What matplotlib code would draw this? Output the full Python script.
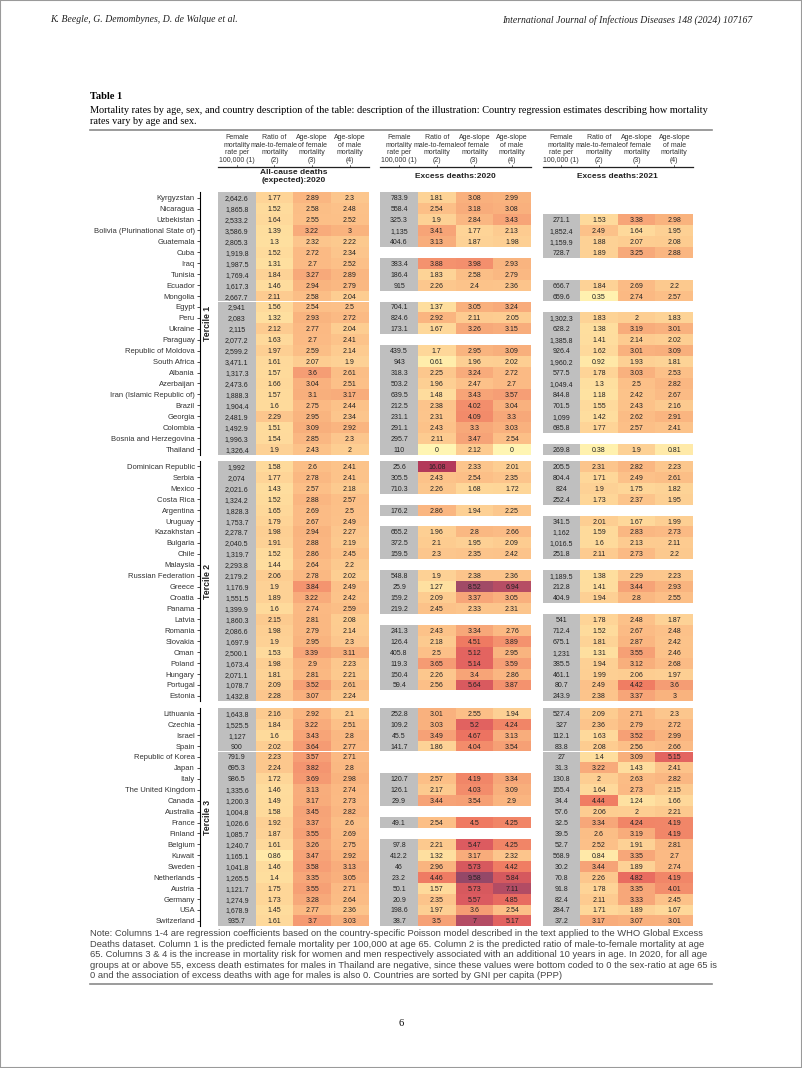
import matplotlib
matplotlib.use("Agg")
import matplotlib.pyplot as plt
from matplotlib.colors import LinearSegmentedColormap, Normalize
from matplotlib.patches import Rectangle
from matplotlib.lines import Line2D
from matplotlib import transforms

# ---------------- data ----------------
countries = [
    # tercile 1
    "Kyrgyzstan", "Nicaragua", "Uzbekistan", "Bolivia (Plurinational State of)", "Guatemala",
    "Cuba", "Iraq", "Tunisia", "Ecuador", "Mongolia", "Egypt", "Peru", "Ukraine", "Paraguay",
    "Republic of Moldova", "South Africa", "Albania", "Azerbaijan", "Iran (Islamic Republic of)",
    "Brazil", "Georgia", "Colombia", "Bosnia and Herzegovina", "Thailand",
    # tercile 2
    "Dominican Republic", "Serbia", "Mexico", "Costa Rica", "Argentina", "Uruguay", "Kazakhstan",
    "Bulgaria", "Chile", "Malaysia", "Russian Federation", "Greece", "Croatia", "Panama", "Latvia",
    "Romania", "Slovakia", "Oman", "Poland", "Hungary", "Portugal", "Estonia",
    # tercile 3
    "Lithuania", "Czechia", "Israel", "Spain", "Republic of Korea", "Japan", "Italy",
    "The United Kingdom", "Canada", "Australia", "France", "Finland", "Belgium", "Kuwait",
    "Sweden", "Netherlands", "Austria", "Germany", "USA", "Switzerland",
]
tercile_sizes = [24, 22, 20]

# columns: female rate per 100,000, male/female ratio, age-slope female, age-slope male
allcause_2020 = [
    (2642.6, 1.77, 2.89, 2.3), (1865.8, 1.52, 2.58, 2.48), (2533.2, 1.64, 2.55, 2.52),
    (3586.9, 1.39, 3.22, 3), (2805.3, 1.3, 2.32, 2.22), (1919.8, 1.52, 2.72, 2.34),
    (1987.5, 1.31, 2.7, 2.52), (1769.4, 1.84, 3.27, 2.89), (1617.3, 1.46, 2.94, 2.79),
    (2667.7, 2.11, 2.58, 2.04), (2941, 1.56, 2.54, 2.5), (2083, 1.32, 2.93, 2.72),
    (2115, 2.12, 2.77, 2.04), (2077.2, 1.63, 2.7, 2.41), (2599.2, 1.97, 2.59, 2.14),
    (3471.1, 1.61, 2.07, 1.9), (1317.3, 1.57, 3.6, 2.61), (2473.6, 1.66, 3.04, 2.51),
    (1888.3, 1.57, 3.1, 3.17), (1904.4, 1.6, 2.75, 2.44), (2481.9, 2.29, 2.95, 2.34),
    (1492.9, 1.51, 3.09, 2.92), (1996.3, 1.54, 2.85, 2.3), (1326.4, 1.9, 2.43, 2),
    (1992, 1.58, 2.6, 2.41), (2074, 1.77, 2.78, 2.41), (2021.6, 1.43, 2.57, 2.18),
    (1324.2, 1.52, 2.88, 2.57), (1828.3, 1.65, 2.69, 2.5), (1753.7, 1.79, 2.67, 2.49),
    (2278.7, 1.98, 2.94, 2.27), (2040.5, 1.91, 2.88, 2.19), (1319.7, 1.52, 2.86, 2.45),
    (2293.8, 1.44, 2.64, 2.2), (2179.2, 2.06, 2.78, 2.02), (1176.9, 1.9, 3.84, 2.49),
    (1551.5, 1.89, 3.22, 2.42), (1399.9, 1.6, 2.74, 2.59), (1860.3, 2.15, 2.81, 2.08),
    (2086.6, 1.98, 2.79, 2.14), (1697.9, 1.9, 2.95, 2.3), (2500.1, 1.53, 3.39, 3.11),
    (1673.4, 1.98, 2.9, 2.23), (2071.1, 1.81, 2.81, 2.21), (1078.7, 2.09, 3.52, 2.61),
    (1432.8, 2.28, 3.07, 2.24),
    (1643.8, 2.16, 2.92, 2.1), (1525.5, 1.84, 3.22, 2.51), (1127, 1.6, 3.43, 2.8),
    (900, 2.02, 3.64, 2.77), (791.9, 2.23, 3.57, 2.71), (695.3, 2.24, 3.82, 2.8),
    (986.5, 1.72, 3.69, 2.98), (1335.6, 1.46, 3.13, 2.74), (1200.3, 1.49, 3.17, 2.73),
    (1004.8, 1.58, 3.45, 2.82), (1026.6, 1.92, 3.37, 2.6), (1085.7, 1.87, 3.55, 2.69),
    (1240.7, 1.61, 3.26, 2.75), (1165.1, 0.86, 3.47, 2.92), (1041.8, 1.46, 3.58, 3.13),
    (1265.5, 1.4, 3.35, 3.05), (1121.7, 1.75, 3.55, 2.71), (1274.9, 1.73, 3.28, 2.64),
    (1678.9, 1.45, 2.77, 2.36), (935.7, 1.61, 3.7, 3.03),
]

excess_2020 = [
    (783.9, 1.81, 3.08, 2.99), (558.4, 2.54, 3.18, 3.08), (325.3, 1.9, 2.84, 3.43),
    (1135, 3.41, 1.77, 2.13), (404.6, 3.13, 1.87, 1.98), None,
    (383.4, 3.88, 3.98, 2.93), (186.4, 1.83, 2.58, 2.79), (915, 2.26, 2.4, 2.36),
    None, (704.1, 1.37, 3.05, 3.24), (824.6, 2.92, 2.11, 2.05),
    (173.1, 1.67, 3.26, 3.15), None, (439.5, 1.7, 2.95, 3.09),
    (943, 0.61, 1.96, 2.02), (318.3, 2.25, 3.24, 2.72), (503.2, 1.96, 2.47, 2.7),
    (639.5, 1.48, 3.43, 3.57), (212.5, 2.38, 4.02, 3.04), (231.1, 2.31, 4.09, 3.3),
    (291.1, 2.43, 3.3, 3.03), (295.7, 2.11, 3.47, 2.54), (110, 0, 2.12, 0),
    (25.6, 16.08, 2.33, 2.01), (305.5, 2.43, 2.54, 2.35), (710.3, 2.26, 1.68, 1.72),
    None, (176.2, 2.86, 1.94, 2.25), None,
    (655.2, 1.96, 2.8, 2.66), (372.5, 2.1, 1.95, 2.09), (159.5, 2.3, 2.35, 2.42),
    None, (548.8, 1.9, 2.38, 2.36), (25.9, 1.27, 8.52, 6.94),
    (159.2, 2.09, 3.37, 3.05), (219.2, 2.45, 2.33, 2.31), None,
    (241.3, 2.43, 3.34, 2.76), (126.4, 2.18, 4.51, 3.89), (405.8, 2.5, 5.12, 2.95),
    (119.3, 3.65, 5.14, 3.59), (150.4, 2.26, 3.4, 2.86), (59.4, 2.56, 5.64, 3.87),
    None,
    (252.8, 3.01, 2.55, 1.94), (109.2, 3.03, 5.2, 4.24), (45.5, 3.49, 4.67, 3.13),
    (141.7, 1.86, 4.04, 3.54), None, None,
    (120.7, 2.57, 4.19, 3.34), (126.1, 2.17, 4.03, 3.09), (29.9, 3.44, 3.54, 2.9),
    None, (49.1, 2.54, 4.5, 4.25), None,
    (97.8, 2.21, 5.47, 4.25), (412.2, 1.32, 3.17, 2.32), (46, 2.96, 5.73, 4.42),
    (23.2, 4.46, 9.58, 5.84), (50.1, 1.57, 5.73, 7.11), (20.9, 2.35, 5.57, 4.85),
    (198.6, 1.97, 3.6, 2.54), (38.7, 3.5, 7, 5.17),
]

excess_2021 = [
    None, None, (271.1, 1.53, 3.38, 2.98),
    (1852.4, 2.49, 1.64, 1.95), (1159.9, 1.88, 2.07, 2.08), (728.7, 1.89, 3.25, 2.88),
    None, None, (666.7, 1.84, 2.69, 2.2),
    (659.6, 0.35, 2.74, 2.57), None, (1302.3, 1.83, 2, 1.83),
    (628.2, 1.38, 3.19, 3.01), (1385.8, 1.41, 2.14, 2.02), (926.4, 1.62, 3.01, 3.09),
    (1960.2, 0.92, 1.93, 1.81), (577.5, 1.78, 3.03, 2.53), (1049.4, 1.3, 2.5, 2.82),
    (844.8, 1.18, 2.42, 2.67), (701.5, 1.55, 2.43, 2.16), (1099, 1.42, 2.62, 2.91),
    (685.8, 1.77, 2.57, 2.41), None, (269.8, 0.38, 1.9, 0.81),
    (205.5, 2.31, 2.82, 2.23), (804.4, 1.71, 2.49, 2.61), (824, 1.9, 1.75, 1.82),
    (252.4, 1.73, 2.37, 1.95), None, (341.5, 2.01, 1.67, 1.99),
    (1162, 1.59, 2.83, 2.73), (1016.5, 1.6, 2.13, 2.11), (251.8, 2.11, 2.73, 2.2),
    None, (1189.5, 1.38, 2.29, 2.23), (212.8, 1.41, 3.44, 2.93),
    (404.9, 1.94, 2.8, 2.55), None, (541, 1.78, 2.48, 1.87),
    (712.4, 1.52, 2.67, 2.48), (675.1, 1.81, 2.87, 2.42), (1231, 1.31, 3.55, 2.46),
    (385.5, 1.94, 3.12, 2.68), (461.1, 1.99, 2.06, 1.97), (80.7, 2.49, 4.42, 3.6),
    (243.9, 2.38, 3.37, 3),
    (527.4, 2.09, 2.71, 2.3), (327, 2.36, 2.79, 2.72), (112.1, 1.63, 3.52, 2.99),
    (83.8, 2.08, 2.56, 2.66), (27, 1.4, 3.09, 5.15), (31.3, 3.22, 1.43, 2.41),
    (130.8, 2, 2.63, 2.82), (155.4, 1.64, 2.73, 2.15), (34.4, 4.44, 1.24, 1.66),
    (57.6, 2.06, 2, 2.21), (32.5, 3.34, 4.24, 4.19), (39.5, 2.6, 3.19, 4.19),
    (52.7, 2.52, 1.91, 2.81), (568.9, 0.84, 3.35, 2.7), (30.2, 3.44, 1.89, 2.74),
    (70.8, 2.26, 4.82, 4.19), (91.8, 1.78, 3.35, 4.01), (82.4, 2.11, 3.33, 2.45),
    (284.7, 1.71, 1.89, 1.67), (37.2, 3.17, 3.07, 3.01),
]

panels = [allcause_2020, excess_2020, excess_2021]
panel_titles = ["All-cause deaths\n(expected):2020", "Excess deaths:2020", "Excess deaths:2021"]
col_headers = ["Female\nmortality\nrate per\n100,000 (1)", "Ratio of\nmale-to-female\nmortality\n(2)",
               "Age-slope\nof female\nmortality\n(3)", "Age-slope\nof male\nmortality\n(4)"]

caption_1 = ("Mortality rates by age, sex, and country description of the table: description of the "
             "illustration: Country regression estimates describing how mortality")
caption_2 = "rates vary by age and sex."
note_lines = [
    "Note: Columns 1-4 are regression coefficients based on the country-specific Poisson model described in the text applied to the WHO Global Excess",
    "Deaths dataset. Column 1 is the predicted female mortality per 100,000 at age 65. Column 2 is the predicted ratio of male-to-female mortality at age",
    "65. Columns 3 & 4 is the increase in mortality risk for women and men respectively associated with an additional 10 years in age. In 2020, for all age",
    "groups at or above 55, excess death estimates for males in Thailand are negative, since these values were bottom coded to 0 the sex-ratio at age 65 is",
    "0 and the association of excess deaths with age for males is also 0. Countries are sorted by GNI per capita (PPP)",
]

# ---------------- style ----------------
plt.rcParams['font.family'] = ['Liberation Sans', 'DejaVu Sans']

heat = LinearSegmentedColormap.from_list("heat", [
    (0.000, "#fff5b3"), (0.035, "#fff1ae"), (0.085, "#ffe9a8"), (0.130, "#fedf9f"),
    (0.160, "#fed99b"), (0.200, "#fdce92"), (0.225, "#fcc78d"), (0.250, "#fcc088"),
    (0.300, "#f9b27e"), (0.350, "#f6a176"), (0.400, "#f38e6c"), (0.450, "#ef7a62"),
    (0.485, "#e86b60"), (0.550, "#dc5b60"), (0.580, "#d6595e"), (0.700, "#b44c64"),
    (0.960, "#944868"), (1.000, "#904868"),
])
heat.set_over("#b3395a")
norm = Normalize(vmin=0, vmax=10)
GRAY = "#bfbfbf"

W, H = 802, 1068
fig = plt.figure(figsize=(W / 100, H / 100), dpi=100)


def fy(y):
    return 1 - y / H


def fmt(v):
    s = f"{v:,}"
    return s[:-2] if s.endswith(".0") else s


col_px = 37.65
x0_px = 218
ax_left_px, ax_right_px = 200, 707
xlim = ((ax_left_px - x0_px) / col_px, (ax_right_px - x0_px) / col_px)
panel_offsets = [0, 4.31, 8.62]
row_h = 10.93
top = 192.2
gap = 6.4

axes = []
start = 0
for k, n in enumerate(tercile_sizes):
    ax = fig.add_axes([ax_left_px / W, fy(top + n * row_h), (ax_right_px - ax_left_px) / W, n * row_h / H])
    ax.set_xlim(*xlim)
    ax.set_ylim(n, 0)
    for p, data in enumerate(panels):
        off = panel_offsets[p]
        for i in range(n):
            row = data[start + i]
            if row is None:
                continue
            for j, v in enumerate(row):
                color = GRAY if j == 0 else heat(norm(v))
                ax.add_patch(Rectangle((off + j, i), 1, 1, facecolor=color, edgecolor="none"))
                # baseline alignment keeps commas from pushing numbers down
                ax.text(off + j + 0.5, i + 0.73, fmt(v), ha="center", va="baseline",
                        fontsize=5, color="#222222")
    ax.set_yticks([i + 0.5 for i in range(n)])
    ax.set_yticklabels(countries[start:start + n], fontsize=5.5, color="#333333")
    ax.set_xticks([])
    ax.tick_params(axis="y", length=2.5, width=0.6, pad=1.2, color="#333333")
    for side in ["top", "right", "bottom"]:
        ax.spines[side].set_visible(False)
    ax.spines["left"].set_linewidth(0.8)
    ax.text(-0.27, n / 2, f"Tercile {k + 1}", rotation=90, ha="center", va="center",
            fontsize=6.3, fontweight="bold", color="#222222")
    axes.append(ax)
    start += n
    top += n * row_h + gap

# column headers and panel titles
trans = transforms.blended_transform_factory(axes[0].transData, fig.transFigure)
for p, off in enumerate(panel_offsets):
    for j, lab in enumerate(col_headers):
        fig.text(off + j + 0.5, fy(149), lab, transform=trans, ha="center", va="center",
                 fontsize=5, linespacing=1.12, color="#333333")
        fig.add_artist(Line2D([off + j + 0.5] * 2, [fy(164.5), fy(166.5)], transform=trans,
                              color="#333333", lw=0.5))
    fig.add_artist(Line2D([off, off + 4], [fy(166.8)] * 2, transform=trans, color="#222222", lw=0.9))
    fig.text(off + 2, fy(176.5), panel_titles[p], transform=trans, ha="center", va="center",
             fontsize=6, fontweight="bold", linespacing=1.05, color="#222222")

# page furniture
serif = ['Liberation Serif', 'DejaVu Serif']
fig.text(50 / W, fy(20), "K. Beegle, G. Demombynes, D. de Walque et al.", family=serif,
         style="italic", fontsize=7, va="center", color="#222222")
fig.text(752 / W, fy(20), "International Journal of Infectious Diseases 148 (2024) 107167", family=serif,
         style="italic", fontsize=7, va="center", ha="right", color="#222222")
fig.text(90 / W, fy(97), "Table 1", family=serif, fontweight="bold", fontsize=7.5, va="center")

renderer = fig.canvas.get_renderer()


def fitted(x, y, text, width_px, **kw):
    t = fig.text(x / W, fy(y), text, va="center", **kw)
    w = t.get_window_extent(renderer).width
    t.set_fontsize(t.get_fontsize() * width_px / w)
    return t.get_fontsize()


cap_size = fitted(90, 110, caption_1, 620, family=serif, fontsize=7)
fig.text(90 / W, fy(122), caption_2, family=serif, fontsize=cap_size, va="center")

note_size = fitted(90, 934, note_lines[0], 618, fontsize=6, color="#444444")
for i, line in enumerate(note_lines[1:], start=1):
    fig.text(90 / W, fy(934 + 10.4 * i), line, fontsize=note_size, va="center", color="#444444")

for y in (130, 984):
    fig.add_artist(Line2D([90 / W, 712 / W], [fy(y)] * 2, color="#8a8a8a", lw=1.2))

fig.text(0.5, fy(1024), "6", family=serif, fontsize=7.5, ha="center", va="center")
fig.add_artist(Rectangle((0, 0), 1, 1, transform=fig.transFigure, fill=False,
                         edgecolor="#9a9a9a", lw=1.5))

fig.savefig("out.png", dpi=100)
